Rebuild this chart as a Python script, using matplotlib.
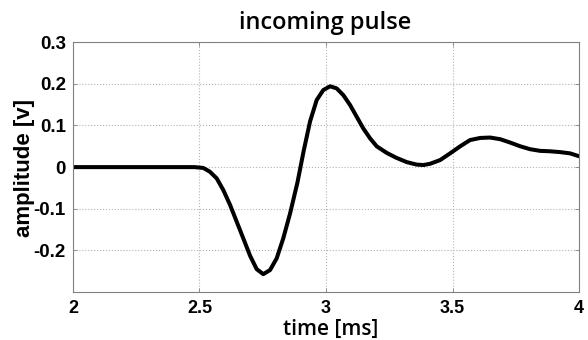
import matplotlib.pyplot as plt

# pulse samples (time in ms, amplitude in V)
time_ms = [2.00, 2.10, 2.20, 2.30, 2.40, 2.48, 2.515, 2.541, 2.568, 2.594, 2.621,
           2.647, 2.673, 2.700, 2.726, 2.752, 2.779, 2.805, 2.831, 2.858, 2.887,
           2.912, 2.937, 2.963, 2.989, 3.016, 3.042, 3.068, 3.095, 3.121, 3.147,
           3.174, 3.200, 3.240, 3.279, 3.319, 3.358, 3.385, 3.411, 3.451, 3.490,
           3.530, 3.569, 3.609, 3.648, 3.688, 3.727, 3.767, 3.806, 3.846, 3.885,
           3.925, 3.964, 4.00]
amplitude = [0.000, 0.000, 0.000, 0.000, 0.000, 0.000, -0.002, -0.011, -0.027, -0.055, -0.091,
             -0.131, -0.171, -0.213, -0.245, -0.257, -0.247, -0.219, -0.171, -0.111, -0.037,
             0.040, 0.110, 0.161, 0.185, 0.194, 0.189, 0.173, 0.149, 0.121, 0.093,
             0.069, 0.050, 0.034, 0.022, 0.012, 0.006, 0.005, 0.008, 0.017, 0.033,
             0.050, 0.065, 0.070, 0.071, 0.067, 0.059, 0.050, 0.043, 0.039, 0.038,
             0.036, 0.033, 0.026]

x_ticks = [2, 2.5, 3, 3.5, 4]
x_tick_labels = ['2', '2.5', '3', '3.5', '4']
y_ticks = [-0.2, -0.1, 0, 0.1, 0.2, 0.3]
y_tick_labels = ['-0.2', '-0.1', '0', '0.1', '0.2', '0.3']

fig = plt.figure(figsize=(5.88, 3.40), dpi=100)
ax = fig.add_axes([0.124, 0.141, 0.861, 0.735])

ax.plot(time_ms, amplitude, color='black', linewidth=2.9,
        solid_capstyle='round', solid_joinstyle='round')

ax.set_xlim(2, 4)
ax.set_ylim(-0.3, 0.3)
ax.set_xticks(x_ticks)
ax.set_xticklabels(x_tick_labels, fontfamily='Liberation Sans', fontweight='bold', fontsize=13)
ax.set_yticks(y_ticks)
ax.set_yticklabels(y_tick_labels, fontfamily='Liberation Sans', fontweight='bold', fontsize=13.5)
ax.tick_params(axis='x', direction='in', length=3, width=0.6, color='#808080', top=True, pad=6)
ax.tick_params(axis='y', direction='in', length=3, width=0.6, color='#808080', right=True, pad=5)

ax.grid(True, linestyle=':', linewidth=0.8, color='#b4b4b4')
for s in ax.spines.values():
    s.set_color('#808080')
    s.set_linewidth(0.8)

fig.text(0.553, 0.933, 'incoming pulse', ha='center', va='center',
         fontfamily='Open Sans', fontweight='semibold', fontsize=17)
fig.text(0.563, 0.030, 'time [ms]', ha='center', va='center',
         fontfamily='Open Sans', fontweight='semibold', fontsize=15)
fig.text(0.041, 0.505, 'amplitude [v]', ha='center', va='center', rotation=90,
         fontfamily='Liberation Sans', fontweight='bold', fontsize=16)

fig.savefig('out.png', dpi=100)
